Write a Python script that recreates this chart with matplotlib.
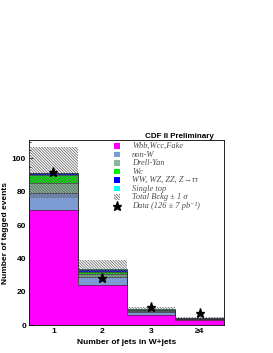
import numpy as np
import matplotlib
matplotlib.use("Agg")
import matplotlib.pyplot as plt
from matplotlib.patches import Rectangle

# Dados (por bin de multiplicidade de jatos)
bins = [1, 2, 3, 4]
tick_labels = ['1', '2', '3', '≥4']
wbb = [69, 24, 6, 3]
non_w = [10, 5, 2, 0.6]
drell_yan = [6, 1.5, 0.5, 0.1]
wc = [5, 1.5, 0.3, 0.1]
diboson = [1, 1, 0.5, 0.3]
single_top = [0.5, 0.5, 0.3, 0.3]
band_lo = [76, 28, 7.5, 3.5]
band_hi = [107, 39, 11, 4.6]
data = [92, 28, 11, 7]

componentes = [
    (wbb, '#ff00ff', 'Wbb,Wcc,Fake'),
    (non_w, '#7b9bd2', 'non-W'),
    (drell_yan, '#88b89c', 'Drell-Yan'),
    (wc, '#00f000', 'Wc'),
    (diboson, '#0000ff', 'WW, WZ, ZZ, Z→ττ'),
    (single_top, '#00ffff', 'Single top'),
]

sans = 'Liberation Sans'
serif = ['Liberation Serif', 'DejaVu Serif']
hachura = '\\' * 12
plt.rcParams['hatch.color'] = '0.35'
plt.rcParams['hatch.linewidth'] = 0.5

fig = plt.figure(figsize=(2.73, 3.53), dpi=100)
ax = fig.add_axes([0.106, 0.079, 0.715, 0.524])

x = np.array(bins)
base = np.zeros(len(bins))
for vals, cor, nome in componentes:
    v = np.array(vals)
    ax.bar(x, v, bottom=base, width=1.0, color=cor, edgecolor='none', zorder=2)
    base = base + v
    ax.step(np.r_[x - 0.5, x[-1] + 0.5], np.r_[base, base[-1]], where='post',
            color='0.2', lw=0.5, zorder=3)

lo = np.array(band_lo)
hi = np.array(band_hi)
ax.bar(x, hi - lo, bottom=lo, width=1.0, facecolor='none', edgecolor='0.35',
       hatch=hachura, lw=0, zorder=4)

ax.plot(x, data, linestyle='none', marker='*', color='black', markersize=6.5, zorder=5)

ax.set_xlim(0.5, 4.5)
ax.set_ylim(0, 111)
ax.set_xticks(x)
ax.set_xticklabels(tick_labels)
ax.set_yticks([0, 20, 40, 60, 80, 100])
ax.set_yticks(np.arange(0, 111, 5), minor=True)
ax.tick_params(direction='in', labelsize=6, length=3, width=0.6, pad=2)
ax.tick_params(axis='y', which='minor', direction='in', length=1.5, width=0.5)
for lab in ax.get_xticklabels() + ax.get_yticklabels():
    lab.set_fontweight('bold')
    lab.set_family(sans)
for s in ax.spines.values():
    s.set_linewidth(0.6)

ax.set_xlabel('Number of jets in W+jets', fontsize=6, fontweight='bold',
              family=sans, labelpad=3)
ax.set_ylabel('Number of tagged events', fontsize=6, fontweight='bold',
              family=sans, labelpad=2)

fig.text(0.784, 0.609, 'CDF II Preliminary', ha='right', va='baseline',
         fontsize=5.8, fontweight='bold', family=sans)

# legenda manual (posições em pixels da figura)
def px_para_ax(px, py):
    return (px - 29) / 195.0, (325 - py) / 185.0

itens = [(c, n) for _, c, n in componentes]
itens.append(('hatch', 'Total Bckg ± 1 σ'))
itens.append(('star', 'Data (126 ± 7 pb⁻¹)'))
for i, (cor, nome) in enumerate(itens):
    py = 146 + 8.5 * i
    mx, my = px_para_ax(117, py)
    w, h = 5.5 / 195.0, 5.5 / 185.0
    if cor == 'star':
        ax.plot([mx], [my], marker='*', color='black', markersize=6.5,
                transform=ax.transAxes, clip_on=False, zorder=6)
    elif cor == 'hatch':
        ax.add_patch(Rectangle((mx - w / 2, my - h / 2), w, h, transform=ax.transAxes,
                               facecolor='white', edgecolor='0.35', hatch=hachura,
                               lw=0, zorder=6))
    else:
        ax.add_patch(Rectangle((mx - w / 2, my - h / 2), w, h, transform=ax.transAxes,
                               facecolor=cor, edgecolor='none', zorder=6))
    tx, ty = px_para_ax(132, py)
    ax.text(tx, ty, nome, transform=ax.transAxes, ha='left', va='center',
            fontsize=6, family=serif, style='italic', color='0.3', zorder=6)

fig.savefig('out.png', dpi=100)
